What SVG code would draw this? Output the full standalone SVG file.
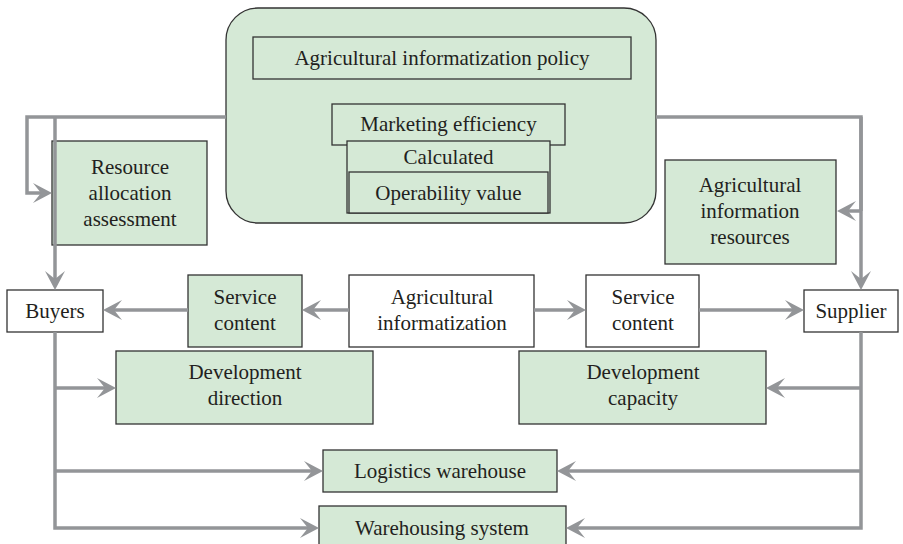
<svg xmlns="http://www.w3.org/2000/svg" width="903" height="544" viewBox="0 0 903 544">
<style>
.g{fill:#d5e9d6;stroke:#333;stroke-width:1.3}
.w{fill:#fff;stroke:#333;stroke-width:1.3}
text{font-size:21px;fill:#231f20;text-anchor:middle;dominant-baseline:central}
.c{fill:none;stroke:#939598;stroke-width:3.5}
.a{marker-end:url(#ah)}
</style>
<defs>
<marker id="ah" markerUnits="userSpaceOnUse" markerWidth="24" markerHeight="24" viewBox="-2 -12 24 24" refX="8" refY="0" orient="auto">
<path d="M0,-10 L19,0 L0,10 L8,0 Z" fill="#939598"/>
</marker>
</defs>
<rect width="903" height="544" fill="#fff"/>
<g font-family="Liberation Serif, DejaVu Serif, serif">
<g id="policy-group">
<rect class="g" x="226" y="8" width="430" height="215" rx="32" ry="32"/>
<g id="policy"><rect class="g" x="253" y="37" width="378" height="42"/><text x="442" y="58">Agricultural informatization policy</text></g>
<g id="marketing"><rect class="g" x="332" y="104" width="233" height="41"/><text x="448.5" y="124">Marketing efficiency</text></g>
<g id="calculated"><rect class="g" x="347" y="141" width="203" height="72"/><text x="448.5" y="157">Calculated</text></g>
<g id="operability"><rect class="g" x="349" y="172" width="199" height="41"/><text x="448.5" y="193">Operability value</text></g>
</g>
<g id="resource"><rect class="g" x="52" y="141" width="155" height="104"/><text x="130" y="167">Resource</text><text x="130" y="193">allocation</text><text x="130" y="219">assessment</text></g>
<g id="info-resources"><rect class="g" x="665" y="160" width="171" height="104"/><text x="750" y="185">Agricultural</text><text x="750" y="211">information</text><text x="750" y="237">resources</text></g>
<g id="buyers"><rect class="w" x="7" y="290" width="96" height="42"/><text x="55" y="311">Buyers</text></g>
<g id="supplier"><rect class="w" x="804" y="290" width="94" height="42"/><text x="851" y="311">Supplier</text></g>
<g id="service-left"><rect class="g" x="188" y="275" width="114" height="72"/><text x="245" y="297">Service</text><text x="245" y="323">content</text></g>
<g id="agri-info"><rect class="w" x="349" y="275" width="185" height="72"/><text x="442" y="297">Agricultural</text><text x="442" y="323">informatization</text></g>
<g id="service-right"><rect class="w" x="586" y="275" width="113" height="72"/><text x="643" y="297">Service</text><text x="643" y="323">content</text></g>
<g id="dev-direction"><rect class="g" x="116" y="351" width="257" height="73"/><text x="245" y="372">Development</text><text x="245" y="398">direction</text></g>
<g id="dev-capacity"><rect class="g" x="519" y="351" width="247" height="73"/><text x="643" y="372">Development</text><text x="643" y="398">capacity</text></g>
<g id="logistics"><rect class="g" x="323" y="450" width="234" height="42"/><text x="440" y="471">Logistics warehouse</text></g>
<g id="warehousing"><rect class="g" x="319" y="506" width="247" height="50"/><text x="442" y="528">Warehousing system</text></g>
</g>
<g id="connectors">
<path class="c a" d="M226,117 H27 V193 H41"/>
<path class="c a" d="M55,117 V279"/>
<path class="c" d="M656,117 H861 V211"/>
<path class="c a" d="M861,117 V279"/>
<path class="c a" d="M861,211 H848"/>
<path class="c a" d="M55,332 V528 H308"/>
<path class="c a" d="M55,388 H105"/>
<path class="c a" d="M55,471 H312"/>
<path class="c a" d="M861,332 V528 H577"/>
<path class="c a" d="M861,388 H777"/>
<path class="c a" d="M861,471 H568"/>
<path class="c a" d="M349,310 H313"/>
<path class="c a" d="M188,310 H114"/>
<path class="c a" d="M534,310 H575"/>
<path class="c a" d="M699,310 H793"/>
</g>
</svg>
